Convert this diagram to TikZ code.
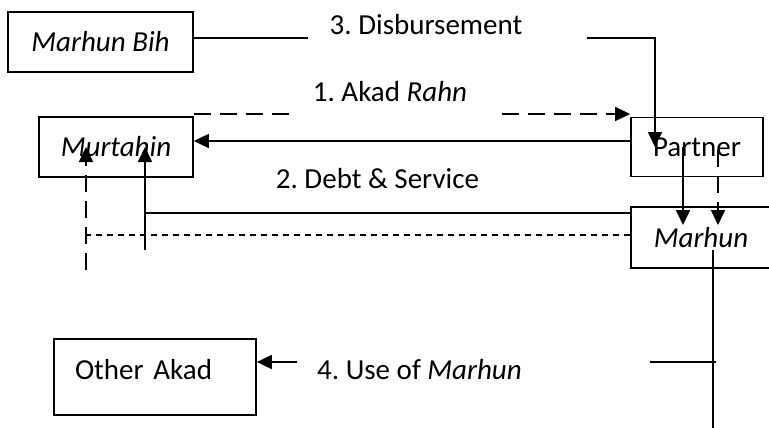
\documentclass[tikz,border=0pt]{standalone}
\usepackage{fontspec}
\setmainfont{Carlito}
\usetikzlibrary{arrows.meta,positioning}
\frenchspacing
\begin{document}
\begin{tikzpicture}[x=1pt,y=-1pt,line width=1.7pt,
      every node/.style={font=\fontsize{29}{34}\selectfont},
      >={Triangle[length=15pt,width=14pt]},
      box/.style={draw,line width=1.7pt,inner sep=0pt},
      longdash/.style={dash pattern=on 17pt off 9pt},
      shortdash/.style={dash pattern=on 6pt off 5pt}]
      \useasboundingbox(0,0)rectangle(769,428);
      \clip(0,0)rectangle(769,428);
      \node[box,minimum width=185,minimum height=60](bih)at(100.5,42){\itshape Marhun Bih};
      \node[box,minimum width=154,minimum height=60](murtahin)at(116,147){\itshape Murtahin};
      \node[box,minimum width=132,minimum height=59](partner)at(697,147){Partner};
      \node[box,minimum width=140,minimum height=61](marhun)at(701,237.5){\itshape Marhun};
      \node[box,minimum width=202,minimum height=76,text width=160,align=left,
        text height=18pt,text depth=14pt](other)at(155,377){Other Akad};
      \node[anchor=base](disb)at(426,35){3. Disbursement};
      \node[anchor=base](akad)at(390,102){1. Akad \textit{Rahn}};
      \node[anchor=base](debt)at(377.5,188){2. Debt \& Service};
      \node[anchor=base](use)at(419.5,379){4. Use of \textit{Marhun}};
      \coordinate(d1)at(308,38);\coordinate(d2)at(587,38);\coordinate(d3)at(655,147);
      \draw(bih.east|-d1)--(d1);
      \draw[->](d2)-|(d3);
      \coordinate(a1)at(293,114);\coordinate(a2)at(502,114);
      \draw[longdash](murtahin.north east|-a1)--(a1);
      \draw[longdash,->](a2)--(partner.north west|-a2);
      \draw[->]([yshift=6pt]partner.west)--([yshift=6pt]murtahin.east);
      \coordinate(s1)at(145,250);\coordinate(s2)at(145,147);\coordinate(s3)at(145,213);
      \draw[->](s1)--(s2);
      \draw(s3)--(marhun.west|-s3);
      \coordinate(t1)at(86,270);\coordinate(t2)at(86,147);\coordinate(t3)at(86,235);
      \draw[longdash,->](t1)--(t2);
      \draw[shortdash](marhun.west|-t3)--(t3);
      \coordinate(u1)at(683,147);\coordinate(u2)at(718,150);\coordinate(v)at(700,225);
      \draw[->](u1)--(u1|-v);
      \draw[longdash,->](u2)--(u2|-v);
      \coordinate(w1)at(713,250);\coordinate(w2)at(713,428);\coordinate(w3)at(650,362);
      \draw(w1)--(w2);
      \draw(w3)--([xshift=3pt]w3-|w1);
      \coordinate(o1)at(297,362);
      \draw[->](o1)--(other.east|-o1);
    \end{tikzpicture}
\end{document}
